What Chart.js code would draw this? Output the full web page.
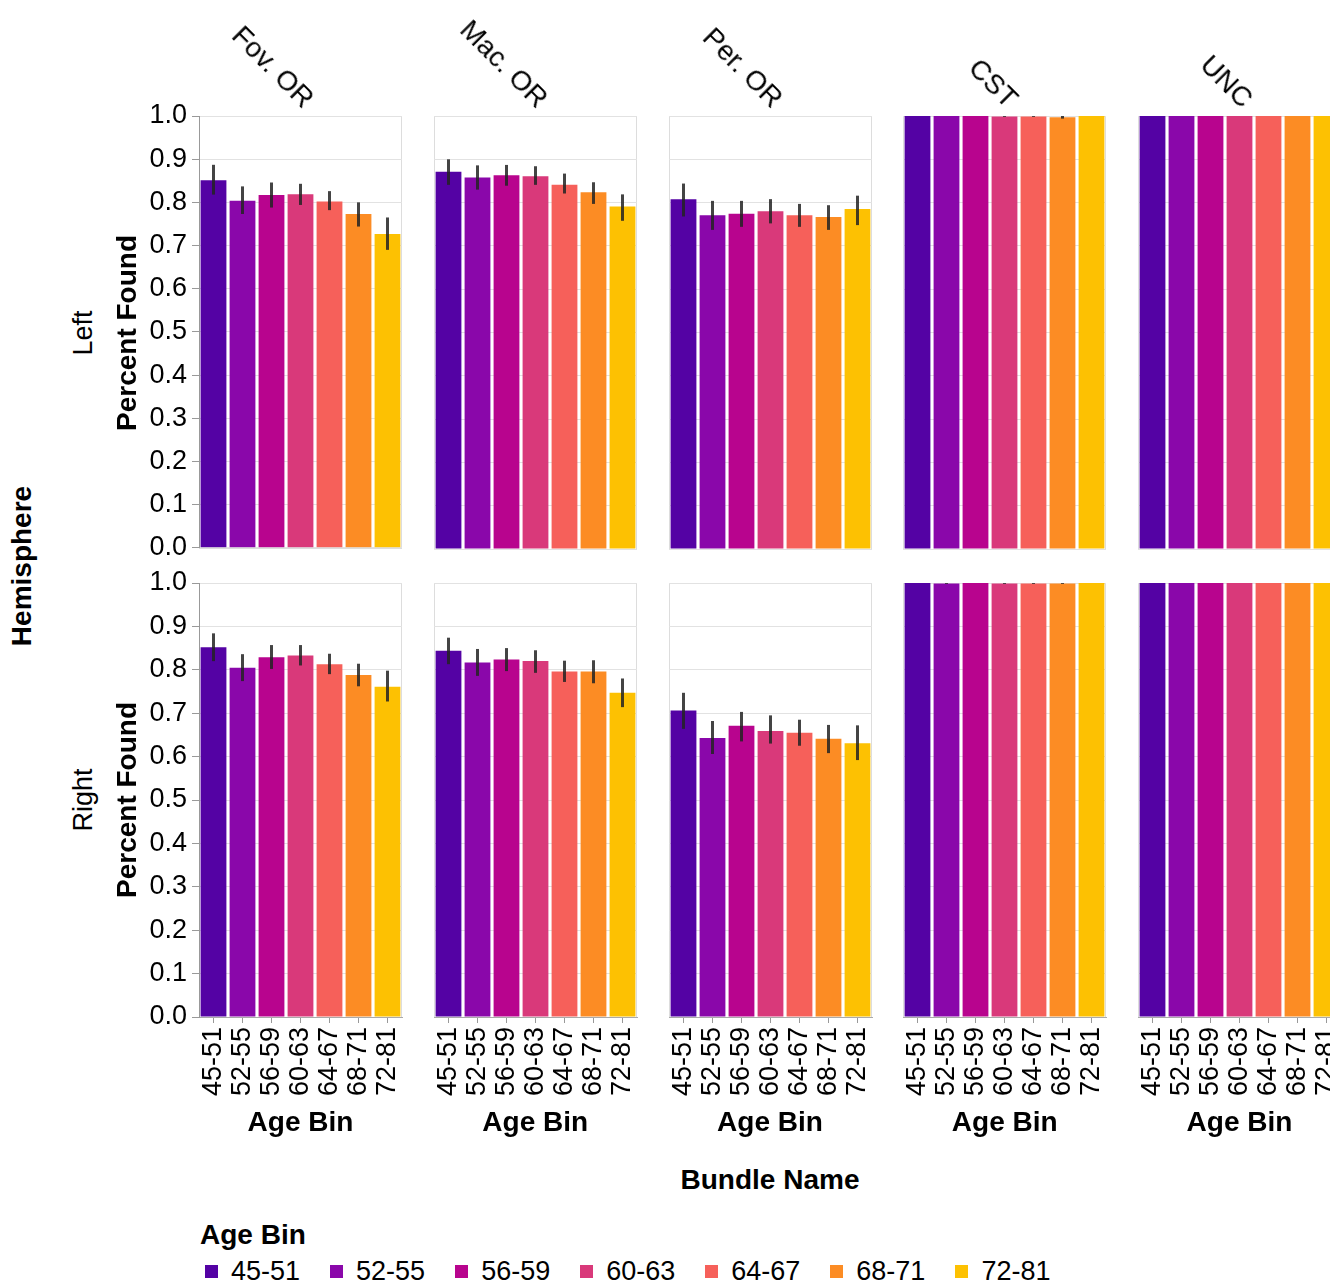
<!DOCTYPE html>
<html>
<head>
<meta charset="utf-8">
<script src="https://cdn.jsdelivr.net/npm/chart.js@4.4.1/dist/chart.umd.min.js"></script>
<style>
    body { margin: 0; background: #fff; }
    #stage {
        position: relative;
        width: 1330px;
        height: 1282px;
        overflow: hidden;
        font-family: "Liberation Sans", Arial, Helvetica, sans-serif;
        color: #000;
    }
    #stage canvas { position: absolute; }
    .lbl { position: absolute; white-space: nowrap; line-height: 1; }
    .bold { font-weight: bold; font-size: 28px; }
    .reg { font-size: 27px; }
    .head { font-size: 28px; }
    #legend { position: absolute; left: 205px; top: 1257px; display: flex; gap: 30px; font-size: 27px; line-height: 28px; }
    #legend .item { display: flex; align-items: center; }
    #legend .swatch { width: 13px; height: 13px; margin-right: 13px; }
</style>
</head>
<body>
<div id="stage"></div>
<script>
const ageBins = ['45-51', '52-55', '56-59', '60-63', '64-67', '68-71', '72-81'];
const bundleNames = ['Fov. OR', 'Mac. OR', 'Per. OR', 'CST', 'UNC'];
const hemispheres = ['Left', 'Right'];
const ageColors = ['#5402a4', '#8a07aa', '#b8048e', '#d9397a', '#f6605a', '#fc8c24', '#fdc102'];
const yTicks = [0, 0.1, 0.2, 0.3, 0.4, 0.5, 0.6, 0.7, 0.8, 0.9, 1.0];

// Left hemisphere: mean percent found and CI bounds per age bin
const leftFovOR   = [0.851, 0.804, 0.817, 0.819, 0.802, 0.773, 0.727];
const leftFovORLo = [0.818, 0.773, 0.788, 0.794, 0.782, 0.744, 0.690];
const leftFovORHi = [0.887, 0.837, 0.846, 0.843, 0.826, 0.800, 0.765];

const leftMacOR   = [0.871, 0.858, 0.863, 0.861, 0.841, 0.824, 0.791];
const leftMacORLo = [0.841, 0.830, 0.839, 0.841, 0.821, 0.797, 0.758];
const leftMacORHi = [0.900, 0.886, 0.887, 0.884, 0.867, 0.847, 0.819];

const leftPerOR   = [0.808, 0.771, 0.774, 0.780, 0.771, 0.767, 0.785];
const leftPerORLo = [0.768, 0.737, 0.744, 0.752, 0.744, 0.737, 0.748];
const leftPerORHi = [0.844, 0.804, 0.804, 0.808, 0.797, 0.794, 0.816];

const leftCST   = [1.000, 1.000, 1.000, 0.999, 0.999, 0.997, 1.000];
const leftCSTLo = [1.000, 1.000, 1.000, 0.998, 0.998, 0.994, 1.000];
const leftCSTHi = [1.000, 1.000, 1.000, 1.000, 1.000, 1.000, 1.000];

const leftUNC   = [1.000, 1.000, 1.000, 1.000, 1.000, 1.000, 1.000];
const leftUNCLo = [1.000, 1.000, 1.000, 1.000, 1.000, 1.000, 1.000];
const leftUNCHi = [1.000, 1.000, 1.000, 1.000, 1.000, 1.000, 1.000];

// Right hemisphere
const rightFovOR   = [0.852, 0.805, 0.829, 0.833, 0.813, 0.788, 0.761];
const rightFovORLo = [0.820, 0.774, 0.802, 0.810, 0.790, 0.762, 0.727];
const rightFovORHi = [0.884, 0.836, 0.857, 0.857, 0.837, 0.814, 0.798];

const rightMacOR   = [0.844, 0.817, 0.824, 0.820, 0.796, 0.796, 0.747];
const rightMacORLo = [0.813, 0.786, 0.797, 0.793, 0.772, 0.769, 0.714];
const rightMacORHi = [0.874, 0.848, 0.850, 0.845, 0.821, 0.822, 0.780];

const rightPerOR   = [0.706, 0.643, 0.671, 0.659, 0.655, 0.641, 0.631];
const rightPerORLo = [0.664, 0.606, 0.635, 0.630, 0.625, 0.608, 0.592];
const rightPerORHi = [0.747, 0.682, 0.703, 0.695, 0.685, 0.673, 0.672];

const rightCST   = [1.000, 0.999, 1.000, 0.999, 0.999, 0.999, 1.000];
const rightCSTLo = [1.000, 0.998, 1.000, 0.998, 0.998, 0.998, 1.000];
const rightCSTHi = [1.000, 1.000, 1.000, 1.000, 1.000, 1.000, 1.000];

const rightUNC   = [1.000, 1.000, 1.000, 1.000, 1.000, 1.000, 1.000];
const rightUNCLo = [1.000, 1.000, 1.000, 1.000, 1.000, 1.000, 1.000];
const rightUNCHi = [1.000, 1.000, 1.000, 1.000, 1.000, 1.000, 1.000];

const panels = [
    [
        { mean: leftFovOR, lo: leftFovORLo, hi: leftFovORHi },
        { mean: leftMacOR, lo: leftMacORLo, hi: leftMacORHi },
        { mean: leftPerOR, lo: leftPerORLo, hi: leftPerORHi },
        { mean: leftCST, lo: leftCSTLo, hi: leftCSTHi },
        { mean: leftUNC, lo: leftUNCLo, hi: leftUNCHi }
    ],
    [
        { mean: rightFovOR, lo: rightFovORLo, hi: rightFovORHi },
        { mean: rightMacOR, lo: rightMacORLo, hi: rightMacORHi },
        { mean: rightPerOR, lo: rightPerORLo, hi: rightPerORHi },
        { mean: rightCST, lo: rightCSTLo, hi: rightCSTHi },
        { mean: rightUNC, lo: rightUNCLo, hi: rightUNCHi }
    ]
];

const FONT = '"Liberation Sans", Arial, Helvetica, sans-serif';
Chart.defaults.font.family = FONT;
Chart.defaults.color = '#000';

// Grid geometry
const PLOT_LEFT = 199;
const PLOT_STEP = 234.75;
const PLOT_W = 203;
const ROW_TOP = [116, 583];
const ROW_H = [433, 434];
const Y_AXIS_W = 99;
const X_AXIS_H = 90;
const PAD = 30;
const SIDE = 40;

const stage = document.getElementById('stage');

// light frame around each facet, drawn under the axis lines
const framePlugin = {
    id: 'frame',
    beforeDraw(chart) {
        const { left, top, width, height } = chart.chartArea;
        const ctx = chart.ctx;
        ctx.save();
        ctx.strokeStyle = '#dddddd';
        ctx.lineWidth = 1;
        ctx.strokeRect(Math.round(left) + 0.5, Math.round(top) + 0.5, Math.round(width) - 1, Math.round(height));
        ctx.restore();
    }
};

function makeErrorBars(lo, hi) {
    return {
        id: 'errorBars',
        afterDatasetsDraw(chart) {
            const y = chart.scales.y;
            const ctx = chart.ctx;
            ctx.save();
            ctx.strokeStyle = 'rgba(35, 35, 35, 0.85)';
            ctx.lineWidth = 3;
            chart.getDatasetMeta(0).data.forEach((bar, i) => {
                if (hi[i] - lo[i] <= 0) return;
                ctx.beginPath();
                ctx.moveTo(bar.x, y.getPixelForValue(lo[i]));
                ctx.lineTo(bar.x, y.getPixelForValue(hi[i]));
                ctx.stroke();
            });
            ctx.restore();
        }
    };
}

function addLabel(text, cls, x, y, rotate) {
    const el = document.createElement('div');
    el.className = 'lbl ' + cls;
    el.textContent = text;
    el.style.left = x + 'px';
    el.style.top = y + 'px';
    el.style.transform = `translate(-50%, -50%) rotate(${rotate || 0}deg)`;
    stage.appendChild(el);
    return el;
}

function addPanel(row, col) {
    const p = panels[row][col];
    const plotLeft = PLOT_LEFT + col * PLOT_STEP;
    const isFirstCol = col === 0;
    const isBottom = row === 1;

    const padLeft = isFirstCol ? 0 : SIDE;
    const leftSpace = isFirstCol ? Y_AXIS_W : padLeft;
    const width = Math.round(leftSpace + PLOT_W + SIDE);
    const height = PAD + ROW_H[row] + (isBottom ? X_AXIS_H : 20);

    const canvas = document.createElement('canvas');
    canvas.width = width;
    canvas.height = height;
    canvas.style.left = (plotLeft - leftSpace) + 'px';
    canvas.style.top = (ROW_TOP[row] - PAD) + 'px';
    stage.appendChild(canvas);

    new Chart(canvas.getContext('2d'), {
        type: 'bar',
        data: {
            labels: ageBins,
            datasets: [{
                data: p.mean,
                backgroundColor: ageColors,
                borderWidth: 0,
                barPercentage: 0.89,
                categoryPercentage: 1.0
            }]
        },
        options: {
            responsive: false,
            animation: false,
            devicePixelRatio: 1,
            layout: { padding: { top: PAD, left: padLeft, right: SIDE, bottom: isBottom ? 0 : 20 } },
            plugins: { legend: { display: false }, tooltip: { enabled: false } },
            scales: {
                x: {
                    display: isBottom,
                    offset: true,
                    grid: { display: true, drawOnChartArea: false, offset: false, tickLength: 6, tickColor: '#999' },
                    border: { display: true, color: '#aaa' },
                    ticks: {
                        autoSkip: false,
                        minRotation: 90,
                        maxRotation: 90,
                        padding: 4,
                        font: { size: 27 }
                    },
                    afterFit: (scale) => { if (isBottom) scale.height = X_AXIS_H; }
                },
                y: {
                    min: 0,
                    max: 1,
                    afterBuildTicks: (scale) => { scale.ticks = yTicks.map(v => ({ value: v })); },
                    grid: { color: '#e2e2e2', drawTicks: isFirstCol, tickLength: 7, tickColor: '#999' },
                    border: { display: isFirstCol, color: '#999' },
                    ticks: {
                        display: isFirstCol,
                        autoSkip: false,
                        padding: 5,
                        font: { size: 27 },
                        callback: (v) => Number(v).toFixed(1)
                    },
                    afterFit: (scale) => { scale.width = isFirstCol ? Y_AXIS_W : 0; }
                }
            }
        },
        plugins: [framePlugin, makeErrorBars(p.lo, p.hi)]
    });
}

hemispheres.forEach((h, row) => bundleNames.forEach((b, col) => addPanel(row, col)));

// Column headers, rotated 45 degrees and ending just right of the facet centre
bundleNames.forEach((name, col) => {
    const cx = PLOT_LEFT + col * PLOT_STEP + PLOT_W / 2;
    const el = document.createElement('div');
    el.className = 'lbl head';
    el.textContent = name;
    el.style.left = (cx + 8) + 'px';
    el.style.top = '103px';
    el.style.transformOrigin = '0 0';
    el.style.transform = 'rotate(45deg) translate(-100%, -50%)';
    stage.appendChild(el);

    addLabel('Age Bin', 'bold', cx, 1122);
});

// Row headers and y titles
hemispheres.forEach((h, row) => {
    const cy = ROW_TOP[row] + ROW_H[row] / 2;
    addLabel(h, 'reg', 83, cy, -90);
    addLabel('Percent Found', 'bold', 127, cy, -90);
});
addLabel('Hemisphere', 'bold', 22, 566, -90);
addLabel('Bundle Name', 'bold', 770, 1180);

// Legend
const legendTitle = document.createElement('div');
legendTitle.className = 'lbl bold';
legendTitle.textContent = 'Age Bin';
legendTitle.style.left = '200px';
legendTitle.style.top = '1221px';
stage.appendChild(legendTitle);

const legend = document.createElement('div');
legend.id = 'legend';
legend.innerHTML = ageBins.map((bin, i) => `
    <div class="item"><span class="swatch" style="background:${ageColors[i]}"></span>${bin}</div>
`).join('');
stage.appendChild(legend);
</script>
</body>
</html>
